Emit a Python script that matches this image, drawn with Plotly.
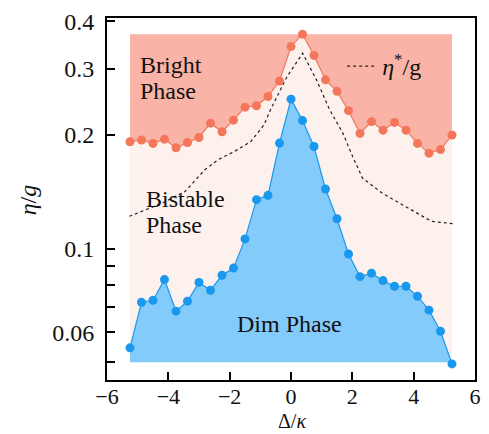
import plotly.graph_objects as go

# ---------------- data ----------------
delta = [-5.25, -4.875, -4.5, -4.125, -3.75, -3.375, -3.0, -2.625, -2.25, -1.875,
         -1.5, -1.125, -0.75, -0.375, 0.0, 0.375, 0.75, 1.125, 1.5, 1.875,
         2.25, 2.625, 3.0, 3.375, 3.75, 4.125, 4.5, 4.875, 5.25]
bright = [0.192, 0.194, 0.190, 0.195, 0.185, 0.191, 0.197, 0.215, 0.204, 0.219,
          0.237, 0.239, 0.253, 0.278, 0.343, 0.370, 0.325, 0.280, 0.261, 0.232,
          0.202, 0.217, 0.206, 0.216, 0.206, 0.190, 0.179, 0.183, 0.200]
dim = [0.0546, 0.0721, 0.0730, 0.0828, 0.0683, 0.0726, 0.0814, 0.0776, 0.0850, 0.0888,
       0.1061, 0.1348, 0.1384, 0.1904, 0.2489, 0.2184, 0.1865, 0.1439, 0.1200, 0.0968,
       0.0843, 0.0861, 0.0823, 0.0795, 0.0795, 0.0748, 0.0687, 0.0604, 0.0495]
eta_x = [-5.27, -4.73, -4.20, -3.45, -2.81, -2.38, -1.84, -1.31, -0.88, -0.67, -0.13,
         0.38, 0.83, 1.26, 1.69, 2.01, 2.33, 2.97, 3.83, 4.58, 5.27]
eta_y = [0.1218, 0.1268, 0.132, 0.1418, 0.1618, 0.172, 0.181, 0.1922, 0.2128, 0.2332, 0.2856,
         0.3294, 0.280, 0.2332, 0.2023, 0.1755, 0.1538, 0.1404, 0.1281, 0.1181, 0.1165]
phase_top = 0.37
phase_bottom = 0.05

xtick_vals = [-6, -4, -2, 0, 2, 4, 6]
xtick_text = ["\u22126", "\u22124", "\u22122", "0", "2", "4", "6"]
ytick_vals = [0.06, 0.1, 0.2, 0.3, 0.4]
ytick_text = ["0.06", "0.1", "0.2", "0.3", "0.4"]
yminor_vals = [0.05, 0.07, 0.08, 0.09]

# ---------------- style ----------------
FONT = "Liberation Serif"
RED = "#F4775C"
RED_FILL = "#F9B4A7"
BLUE = "#1A98EE"
BLUE_FILL = "#83CBFA"
PINK_BG = "#FDF1EE"

xmin, xmax = min(delta), max(delta)

fig = go.Figure()

# bistable background box
fig.add_trace(go.Scatter(
    x=[xmin, xmax, xmax, xmin, xmin],
    y=[phase_bottom, phase_bottom, phase_top, phase_top, phase_bottom],
    fill="toself", fillcolor=PINK_BG, mode="none", showlegend=False, hoverinfo="skip"))

# bright phase fill (above red curve)
fig.add_trace(go.Scatter(
    x=delta + delta[::-1],
    y=bright + [phase_top] * len(delta),
    fill="toself", fillcolor=RED_FILL, mode="none", showlegend=False, hoverinfo="skip"))

# dim phase fill (below blue curve)
fig.add_trace(go.Scatter(
    x=delta + delta[::-1],
    y=dim + [phase_bottom] * len(delta),
    fill="toself", fillcolor=BLUE_FILL, mode="none", showlegend=False, hoverinfo="skip"))

# eta* line
fig.add_trace(go.Scatter(
    x=eta_x, y=eta_y, mode="lines",
    line=dict(color="#222222", width=1.2, dash="dot"),
    name="<i>η</i><sup>*</sup>/g", showlegend=True))

# curves with markers
fig.add_trace(go.Scatter(
    x=delta, y=bright, mode="lines+markers",
    line=dict(color=RED, width=1.2),
    marker=dict(color=RED, size=9), showlegend=False))
fig.add_trace(go.Scatter(
    x=delta, y=dim, mode="lines+markers",
    line=dict(color=BLUE, width=1.2),
    marker=dict(color=BLUE, size=9), showlegend=False))

L, R, T, B = 107, 8, 18, 54
W, H = 489, 434
pw, ph = W - L - R, H - T - B


def px(xp):
    return (xp - L) / pw


def py(yp):
    return (H - B - yp) / ph


ann_font = dict(family=FONT, size=24, color="#111111")
annotations = [
    dict(text="Bright", x=px(139), y=py(65), xanchor="left", yanchor="middle"),
    dict(text="Phase", x=px(139), y=py(91), xanchor="left", yanchor="middle"),
    dict(text="Bistable", x=px(145), y=py(199), xanchor="left", yanchor="middle"),
    dict(text="Phase", x=px(145), y=py(225), xanchor="left", yanchor="middle"),
    dict(text="Dim Phase", x=px(292), y=py(324), xanchor="center", yanchor="middle"),
    dict(text="<i>η</i>/<i>g</i>", x=px(27), y=py(200), xanchor="center", yanchor="middle",
         textangle=-90),
]
for a in annotations:
    a.update(xref="paper", yref="paper", showarrow=False, font=ann_font)
annotations.append(dict(text="Δ/<i>κ</i>", x=px(295), y=py(434), xanchor="center",
                        yanchor="bottom", xref="paper", yref="paper", showarrow=False,
                        font=dict(family=FONT, size=20, color="#111111")))

fig.update_layout(
    width=W, height=H,
    margin=dict(l=L, r=R, t=T, b=B),
    paper_bgcolor="white", plot_bgcolor="white",
    font=dict(family=FONT, size=24, color="#111111"),
    annotations=annotations,
    legend=dict(x=px(346), y=py(44), xanchor="left", yanchor="top",
                bgcolor="rgba(0,0,0,0)", font=dict(family=FONT, size=24),
                itemwidth=30, tracegroupgap=0),
)
fig.update_xaxes(
    range=[-6, 6], tickmode="array", tickvals=xtick_vals, ticktext=xtick_text,
    ticks="inside", ticklen=8, tickwidth=2, tickcolor="black",
    showline=True, linewidth=2, linecolor="black", mirror=True,
    showgrid=False, zeroline=False, ticklabelstandoff=-4,
    tickfont=dict(family=FONT, size=22, color="#111111"))
fig.update_yaxes(
    type="log", range=[-1.348, -0.389], tickmode="array",
    tickvals=ytick_vals, ticktext=ytick_text,
    ticks="inside", ticklen=8, tickwidth=2, tickcolor="black",
    minor=dict(tickmode="array", tickvals=yminor_vals, ticks="inside", ticklen=8,
               tickwidth=2, tickcolor="black", showgrid=False),
    showline=True, linewidth=2, linecolor="black", mirror=True,
    showgrid=False, zeroline=False, ticklabelstandoff=6,
    tickfont=dict(family=FONT, size=24, color="#111111"))

fig.write_html("out.html",
               config={"displayModeBar": False},
               post_script="document.body.style.margin='0';document.body.style.overflow='hidden';")
